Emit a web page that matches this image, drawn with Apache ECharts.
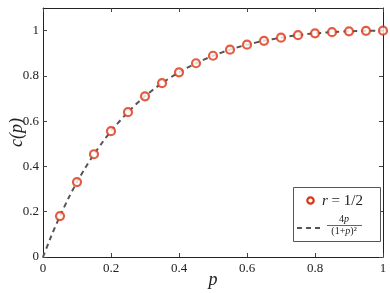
<!DOCTYPE html>
<html>
<head>
<meta charset="utf-8">
<script src="https://cdn.jsdelivr.net/npm/echarts@6/dist/echarts.min.js"></script>
<style>html,body{margin:0;padding:0;background:#fff}#c{width:390px;height:293px}</style>
</head>
<body>
<div id="c"></div>
<script>
// Sampled points (r = 1/2)
const pointP = [0.05,0.10,0.15,0.20,0.25,0.30,0.35,0.40,0.45,0.50,0.55,0.60,0.65,0.70,0.75,0.80,0.85,0.90,0.95,1.00];
const pointC = [0.181,0.331,0.454,0.556,0.640,0.710,0.768,0.816,0.856,0.889,0.916,0.938,0.955,0.969,0.980,0.988,0.993,0.997,0.999,1.000];
// Dashed reference curve 4p/(1+p)^2 (values read at these p)
const curveP = [0,0.025,0.05,0.075,0.10,0.125,0.15,0.175,0.20,0.25,0.30,0.35,0.40,0.45,0.50,0.55,0.60,0.65,0.70,0.75,0.80,0.85,0.90,0.95,1.00];
const curveC = [0,0.095,0.181,0.260,0.331,0.395,0.454,0.507,0.556,0.640,0.710,0.768,0.816,0.856,0.889,0.916,0.938,0.955,0.969,0.980,0.988,0.993,0.997,0.999,1.000];
const xTicks = [0,0.2,0.4,0.6,0.8,1];
const yTicks = [0,0.2,0.4,0.6,0.8,1];

const serif = '"Liberation Serif","Times New Roman",serif';
const chart = echarts.init(document.getElementById('c'));
const fmt = v => (Math.abs(v-1)<1e-9 ? '1' : (Math.abs(v)<1e-9 ? '0' : String(+v.toFixed(1))));
const axisCommon = {
  axisLine:{show:true,onZero:false,lineStyle:{color:'#222',width:1}},
  axisTick:{show:true,inside:true,length:4,lineStyle:{color:'#444'}},
  splitLine:{show:false}
};
chart.setOption({
  animation:false,
  grid:{left:43,right:7,top:8,bottom:36,containLabel:false,outerBoundsMode:'none'},
  xAxis:[
    Object.assign({type:'value',min:0,max:1,interval:0.2,position:'bottom',
      name:'p',nameLocation:'middle',nameGap:14,nameMoveOverlap:false,
      nameTextStyle:{fontFamily:serif,fontStyle:'italic',fontSize:18,color:'#222'},
      axisLabel:{fontFamily:serif,fontSize:13,color:'#222',margin:5,formatter:fmt}},axisCommon),
    Object.assign({type:'value',min:0,max:1,interval:0.2,position:'top',axisLabel:{show:false}},axisCommon)
  ],
  yAxis:[
    Object.assign({type:'value',min:0,max:1.1,interval:0.2,position:'left',
      name:'c(p)',nameLocation:'middle',nameGap:17,nameMoveOverlap:false,
      nameTextStyle:{fontFamily:serif,fontStyle:'italic',fontSize:18,color:'#222'},
      axisLabel:{fontFamily:serif,fontSize:13,color:'#222',margin:4,showMaxLabel:false,formatter:fmt}},axisCommon),
    Object.assign({type:'value',min:0,max:1.1,interval:0.2,position:'right',axisLabel:{show:false}},axisCommon)
  ],
  series:[
    {type:'line',data:curveP.map((p,i)=>[p,curveC[i]]),smooth:0.3,showSymbol:false,
      lineStyle:{color:'#555',width:2,type:[5,4]},z:2},
    {type:'scatter',data:pointP.map((p,i)=>[p,pointC[i]]),symbol:'circle',symbolSize:8,
      itemStyle:{color:'#fff',borderColor:'#dd3311',borderWidth:2.2},z:3}
  ],
  graphic:[
    {type:'rect',shape:{x:293.5,y:187.5,width:87,height:54},style:{fill:'#fff',stroke:'#555',lineWidth:1},z:10},
    {type:'circle',shape:{cx:310.5,cy:200.5,r:3.2},style:{fill:'#fff',stroke:'#dd3311',lineWidth:2.2},z:11},
    {type:'text',x:322,y:201,style:{text:'{i|r} = 1/2',rich:{i:{fontFamily:serif,fontStyle:'italic',fontSize:15,fill:'#222'}},fontFamily:serif,fontSize:15,fill:'#222',verticalAlign:'middle'},z:11},
    {type:'line',shape:{x1:297,y1:228,x2:322,y2:228},style:{stroke:'#555',lineWidth:2,lineDash:[5,4]},z:11},
    {type:'text',x:344,y:224.5,style:{text:'4{i|p}',rich:{i:{fontFamily:serif,fontStyle:'italic',fontSize:10,fill:'#222'}},fontFamily:serif,fontSize:10,fill:'#222',align:'center',verticalAlign:'bottom'},z:11},
    {type:'line',shape:{x1:327,y1:225.5,x2:362,y2:225.5},style:{stroke:'#222',lineWidth:0.7},z:11},
    {type:'text',x:344,y:226.5,style:{text:'(1+{i|p})²',rich:{i:{fontFamily:serif,fontStyle:'italic',fontSize:10,fill:'#222'}},fontFamily:serif,fontSize:10,fill:'#222',align:'center',verticalAlign:'top'},z:11}
  ]
});
</script>
</body>
</html>
